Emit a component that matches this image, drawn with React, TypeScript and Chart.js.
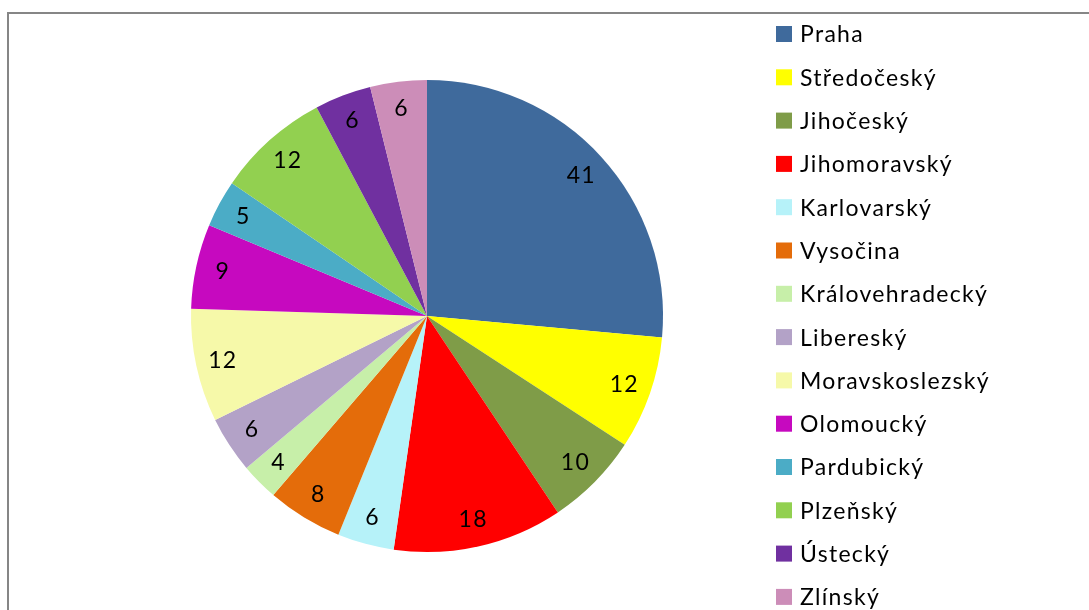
import React, { useEffect, useRef } from "react";
import { Chart, registerables } from "chart.js";

Chart.register(...registerables);

const regions: string[] = [
  "Praha",
  "Středočeský",
  "Jihočeský",
  "Jihomoravský",
  "Karlovarský",
  "Vysočina",
  "Královehradecký",
  "Libereský",
  "Moravskoslezský",
  "Olomoucký",
  "Pardubický",
  "Plzeňský",
  "Ústecký",
  "Zlínský",
];

const counts: number[] = [41, 12, 10, 18, 6, 8, 4, 6, 12, 9, 5, 12, 6, 6];

const sliceColors: string[] = [
  "#3F6A9C",
  "#FFFF00",
  "#7F9C48",
  "#FF0000",
  "#B6F2F9",
  "#E46C0A",
  "#C7EFA9",
  "#B3A2C7",
  "#F6F9A9",
  "#C609BF",
  "#4BACC6",
  "#92D050",
  "#7030A0",
  "#CC8DB8",
];

const FONT = "Lato, 'Open Sans', sans-serif";
const FONT_SIZE = 23;
const LETTER_SPACING = "1.3px";

const labelsPlugin = {
  id: "sliceLabels",
  afterDatasetsDraw(chart: any) {
    const ctx = chart.ctx;
    const meta = chart.getDatasetMeta(0);
    const data = chart.data.datasets[0].data as number[];
    ctx.save();
    ctx.font = `${FONT_SIZE}px ${FONT}`;
    (ctx as any).letterSpacing = LETTER_SPACING;
    ctx.fillStyle = "#000";
    ctx.textAlign = "center";
    ctx.textBaseline = "middle";
    meta.data.forEach((arc: any, i: number) => {
      const p = arc.getProps(["x", "y", "startAngle", "endAngle", "outerRadius"], true);
      const mid = (p.startAngle + p.endAngle) / 2;
      const r = p.outerRadius * 0.885;
      ctx.fillText(String(data[i]), p.x + Math.cos(mid) * r, p.y + Math.sin(mid) * r);
    });
    ctx.restore();
  },
};

const legendPlugin = {
  id: "sideLegend",
  afterDraw(chart: any) {
    const ctx = chart.ctx;
    const labels = chart.data.labels as string[];
    const colors = chart.data.datasets[0].backgroundColor as string[];
    const x0 = 776;
    const y0 = 34;
    const step = 43.3;
    const box = 16;
    ctx.save();
    ctx.font = `${FONT_SIZE}px ${FONT}`;
    (ctx as any).letterSpacing = LETTER_SPACING;
    ctx.textAlign = "left";
    ctx.textBaseline = "middle";
    labels.forEach((lab, i) => {
      const cy = y0 + i * step;
      ctx.fillStyle = colors[i];
      ctx.fillRect(x0, cy - box / 2, box, box);
      ctx.fillStyle = "#000";
      ctx.fillText(lab, x0 + 24, cy + 1);
    });
    ctx.restore();
  },
};

export default function App() {
  const ref = useRef<HTMLCanvasElement | null>(null);

  useEffect(() => {
    if (!ref.current) return;
    const chart = new Chart(ref.current, {
      type: "pie",
      data: {
        labels: regions,
        datasets: [
          {
            data: counts,
            backgroundColor: sliceColors,
            borderWidth: 0,
          },
        ],
      },
      options: {
        responsive: false,
        animation: false,
        events: [],
        layout: { padding: { left: 191, top: 80, right: 426, bottom: 58 } },
        plugins: {
          legend: { display: false },
          tooltip: { enabled: false },
        },
      },
      plugins: [labelsPlugin, legendPlugin],
    });
    return () => chart.destroy();
  }, []);

  return (
    <div
      style={{
        position: "fixed",
        left: 0,
        top: 0,
        width: 1089,
        height: 610,
        background: "#fff",
        overflow: "hidden",
      }}
    >
      <div
        style={{
          position: "absolute",
          left: 7,
          top: 12,
          width: 1200,
          height: 800,
          borderLeft: "2px solid #868686",
          borderTop: "2px solid #868686",
        }}
      />
      <canvas
        ref={ref}
        width={1089}
        height={610}
        style={{ position: "absolute", left: 0, top: 0 }}
      />
    </div>
  );
}
